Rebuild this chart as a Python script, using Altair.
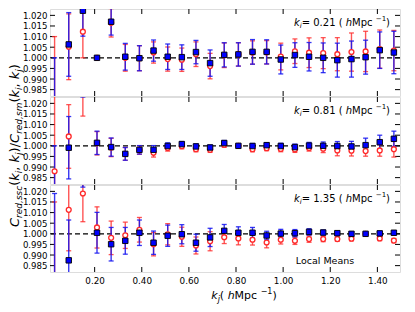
import altair as alt
import pandas as pd

# ---------------- data ----------------
kj = [0.03, 0.09, 0.15, 0.21, 0.27, 0.33, 0.39, 0.45, 0.51, 0.57, 0.63, 0.69, 0.75,
      0.81, 0.87, 0.93, 0.99, 1.05, 1.11, 1.17, 1.23, 1.29, 1.35, 1.41, 1.47]

ki_labels = ["0.21", "0.81", "1.35"]

# blue/black squares (ratio) and their errors
sq1 = [0.970, 1.0063, 1.0222, 1.0000, 1.0170, 1.0005, 0.9998, 1.0034, 1.0005, 1.0003, 1.0027, 0.9975, 1.0014,
       1.0016, 1.0028, 1.0028, 0.9992, 1.0013, 1.0005, 1.0000, 0.9989, 0.9994, 1.0003, 1.0036, 1.0025]
sqe1 = [0.030, 0.0150, 0.012, 0.0, 0.0063, 0.0063, 0.0059, 0.0050, 0.0060, 0.0058, 0.0055, 0.0062, 0.0057,
        0.0055, 0.0058, 0.0057, 0.0068, 0.0058, 0.0067, 0.0070, 0.0080, 0.0085, 0.0080, 0.0086, 0.0100]
ci1 = [0.978, 1.0052, 1.0123, 1.0000, 1.0165, 1.0000, 0.9998, 1.0025, 0.9994, 0.9991, 1.0017, 0.9961, 1.0012,
       1.0016, 1.0025, 1.0026, 1.0006, 1.0031, 1.0024, 1.0022, 1.0017, 1.0027, 1.0030, 1.0041, 1.0034]
cie1 = [0.032, 0.0155, 0.0123, 0.0, 0.0067, 0.0063, 0.0059, 0.0050, 0.0057, 0.0055, 0.0058, 0.0060, 0.0058,
        0.0055, 0.0055, 0.0055, 0.0063, 0.0058, 0.0070, 0.0073, 0.0078, 0.0090, 0.0095, 0.0090, 0.0095]

sq2 = [0.975, 0.9991, 1.035, 1.0014, 0.9994, 0.9962, 0.9981, 0.9981, 0.9999, 1.0008, 0.9997, 0.9992, 1.0013,
       1.0000, 0.9999, 1.0003, 0.9999, 0.9994, 1.0001, 1.0000, 0.9999, 0.9997, 1.0003, 1.0017, 1.0033]
sqe2 = [0.025, 0.0147, 0.012, 0.0055, 0.0043, 0.0030, 0.0020, 0.0020, 0.0015, 0.0012, 0.0012, 0.0012, 0.0012,
        0.0, 0.0012, 0.0012, 0.0013, 0.0014, 0.0015, 0.0018, 0.0021, 0.0024, 0.0033, 0.0033, 0.0036]
ci2 = [0.988, 1.0044, 1.030, 1.0012, 0.9992, 0.9962, 0.9980, 0.9967, 0.9990, 0.9998, 0.9984, 0.9981, 1.0005,
       1.0000, 0.9984, 0.9989, 0.9985, 0.9983, 0.9990, 0.9986, 0.9978, 0.9977, 0.9975, 0.9978, 0.9984]
cie2 = [0.040, 0.0150, 0.016, 0.0055, 0.0043, 0.0030, 0.0020, 0.0020, 0.0015, 0.0012, 0.0012, 0.0012, 0.0012,
        0.0, 0.0012, 0.0012, 0.0013, 0.0014, 0.0015, 0.0018, 0.0025, 0.0025, 0.0024, 0.0027, 0.0037]

sq3 = [0.975, 0.9875, 1.032, 1.0005, 0.9951, 0.9967, 1.0005, 0.9958, 0.9991, 0.9998, 0.9958, 0.9983, 1.0014,
       1.0005, 1.0005, 0.9992, 1.0001, 1.0003, 1.0009, 1.0006, 1.0003, 1.0000, 1.0000, 1.0002, 1.0005]
sqe3 = [0.044, 0.019, 0.010, 0.0096, 0.0079, 0.0063, 0.0060, 0.0055, 0.0050, 0.0045, 0.0040, 0.0043, 0.0030,
        0.0028, 0.0025, 0.0020, 0.0020, 0.0017, 0.0015, 0.0012, 0.0010, 0.0010, 0.0, 0.0010, 0.0010]
ci3 = [0.975, 1.0113, 1.019, 1.0030, 0.9981, 0.9993, 1.0019, 0.9951, 0.9998, 0.9986, 0.9945, 0.9965, 0.9984,
       0.9978, 0.9972, 0.9959, 0.9972, 0.9967, 0.9975, 0.9975, 0.9975, 0.9977, 1.0000, 0.9978, 0.9968]
cie3 = [0.040, 0.0193, 0.0133, 0.0097, 0.0079, 0.0062, 0.0058, 0.0055, 0.0050, 0.0045, 0.0040, 0.0045, 0.0030,
        0.0030, 0.0025, 0.0025, 0.0020, 0.0017, 0.0015, 0.0012, 0.0010, 0.0010, 0.0, 0.0010, 0.0010]

ytick_vals = [0.985, 0.990, 0.995, 1.000, 1.005, 1.010, 1.015, 1.020]
xtick_vals = [0.20, 0.40, 0.60, 0.80, 1.00, 1.20, 1.40]

SQ = [sq1, sq2, sq3]
SQE = [sqe1, sqe2, sqe3]
CI = [ci1, ci2, ci3]
CIE = [cie1, cie2, cie3]

# ---------------- layout / style ----------------
FONT = "DejaVu Sans"
W, H = 350, 87
YMIN, YMAX = 0.982, 1.023
XMIN, XMAX = 0.0105, 1.496
BLUE = "#1414f0"
RED = "#ff2a2a"

W_EM = {' ': 0.318, '(': 0.390, ')': 0.390, ',': 0.318, '.': 0.318, '/': 0.337, '=': 0.838,
        '\u2212': 0.838, 'C': 0.698, 'L': 0.557, 'M': 0.863, 'a': 0.613, 'c': 0.550, 'd': 0.635,
        'e': 0.615, 'h': 0.634, 'i': 0.278, 'j': 0.278, 'k': 0.579, 'l': 0.278, 'm': 0.974,
        'n': 0.634, 'o': 0.612, 'p': 0.635, 'r': 0.411, 's': 0.521}


def tw(s, size):
    return sum(W_EM.get(c, 0.636) for c in s) * size


def seg_layers(segs, x0, y0, vertical=False):
    layers = []
    pos = 0.0
    for text, size, italic, shift in segs:
        if vertical:
            x, y, ang = x0 + shift, y0 - pos, 270
        else:
            x, y, ang = x0 + pos, y0 + shift, 0
        layers.append(
            alt.Chart(alt.Data(values=[{}])).mark_text(
                text=text, font=FONT, fontSize=size,
                fontStyle="italic" if italic else "normal",
                align="left", baseline="alphabetic", angle=ang, color="black"
            ).encode(x=alt.value(x), y=alt.value(y))
        )
        pos += tw(text, size)
    return layers


def seg_width(segs):
    return sum(tw(t, s) for t, s, _, _ in segs)


def panel(i):
    df = pd.DataFrame({"kj": kj, "sq": SQ[i], "sqe": SQE[i], "ci": CI[i], "cie": CIE[i]})
    df["sqlo"] = df.sq - df.sqe
    df["sqhi"] = df.sq + df.sqe
    df["cilo"] = df.ci - df.cie
    df["cihi"] = df.ci + df.cie

    xsc = alt.Scale(domain=[XMIN, XMAX], nice=False, zero=False)
    ysc = alt.Scale(domain=[YMIN, YMAX], nice=False, zero=False)
    if i == 2:
        xax = alt.Axis(values=xtick_vals, format=".2f", ticks=False, domain=False, grid=False,
                       labelFont=FONT, labelFontSize=8.8, labelPadding=4, labelColor="black",
                       title=None, labelOverlap=False)
    else:
        xax = None
    yax = alt.Axis(values=ytick_vals, format=".3f", ticks=False, domain=False, grid=False,
                   labelFont=FONT, labelFontSize=8.6, labelPadding=3, labelColor="black",
                   title=None, labelOverlap=False)

    def X(f):
        return alt.X(f + ":Q", scale=xsc, axis=xax)

    def Y(f):
        return alt.Y(f + ":Q", scale=ysc, axis=yax)

    base = alt.Chart(df)
    bars_r = base.transform_filter("datum.cie > 0")
    bars_b = base.transform_filter("datum.sqe > 0")

    one = alt.Chart(alt.Data(values=[{"v": 1.0}]))
    ydat = alt.Chart(pd.DataFrame({"v": ytick_vals}))
    xdat = alt.Chart(pd.DataFrame({"v": xtick_vals}))

    layers = [
        # inward ticks
        ydat.mark_rule(color="black", strokeWidth=1).encode(y=Y("v"), x=alt.value(0), x2=alt.value(5)),
        ydat.mark_rule(color="black", strokeWidth=1).encode(y=Y("v"), x=alt.value(W - 5), x2=alt.value(W)),
        xdat.mark_rule(color="black", strokeWidth=1).encode(x=X("v"), y=alt.value(0), y2=alt.value(5)),
        xdat.mark_rule(color="black", strokeWidth=1).encode(x=X("v"), y=alt.value(H - 5), y2=alt.value(H)),
        # dashed unity line
        one.mark_rule(color="black", strokeWidth=1.3, strokeDash=[5, 3]).encode(y=Y("v")),
        # red error bars
        bars_r.mark_rule(color=RED, strokeWidth=1.4, opacity=0.8, clip=True).encode(x=X("kj"), y=Y("cilo"), y2="cihi:Q"),
        bars_r.mark_tick(color=RED, orient="horizontal", size=5, thickness=1.3, opacity=0.8, clip=True).encode(x=X("kj"), y=Y("cilo")),
        bars_r.mark_tick(color=RED, orient="horizontal", size=5, thickness=1.3, opacity=0.8, clip=True).encode(x=X("kj"), y=Y("cihi")),
        # blue error bars
        bars_b.mark_rule(color=BLUE, strokeWidth=1.4, opacity=0.85, clip=True).encode(x=X("kj"), y=Y("sqlo"), y2="sqhi:Q"),
        bars_b.mark_tick(color=BLUE, orient="horizontal", size=5, thickness=1.3, opacity=0.85, clip=True).encode(x=X("kj"), y=Y("sqlo")),
        bars_b.mark_tick(color=BLUE, orient="horizontal", size=5, thickness=1.3, opacity=0.85, clip=True).encode(x=X("kj"), y=Y("sqhi")),
        # red open circles
        base.mark_point(shape="circle", filled=False, fill="white", fillOpacity=1, stroke=RED,
                        strokeWidth=1.3, size=24, opacity=1, clip=True).encode(x=X("kj"), y=Y("ci")),
        # squares
        base.mark_square(fill="#0000ff", stroke="black", strokeWidth=0.9, size=30, opacity=1,
                         clip=True).encode(x=X("kj"), y=Y("sq")),
    ]

    # k_i label (top right)
    ki_segs = [("k", 10, True, 0), ("i", 7, True, 2.5), (" = " + ki_labels[i] + " (", 10, False, 0),
               ("h", 10, True, 0), (" Mpc", 10, False, 0), ("\u22121", 7, False, -4.5), (")", 10, False, 0)]
    layers += seg_layers(ki_segs, W - 10 - seg_width(ki_segs), 16.5)

    if i == 1:
        ytitle = [("C", 13, True, 0), ("red,ssc", 9, True, 3), ("(", 13, False, 0), ("k", 13, True, 0),
                  ("i", 9, True, 3), (", ", 13, False, 0), ("k", 13, True, 0), ("j", 9, True, 3),
                  (")/", 13, False, 0), ("C", 13, True, 0), ("red,sm", 9, True, 3), ("(", 13, False, 0),
                  ("k", 13, True, 0), ("i", 9, True, 3), (", ", 13, False, 0), ("k", 13, True, 0),
                  ("j", 9, True, 3), (")", 13, False, 0)]
        layers += seg_layers(ytitle, -31, 130, vertical=True)

    if i == 2:
        layers.append(
            alt.Chart(alt.Data(values=[{}])).mark_text(
                text="Local Means", font=FONT, fontSize=9.5, align="center", baseline="alphabetic",
                color="black").encode(x=alt.value(275), y=alt.value(79))
        )
        xt = [("k", 11, True, 0), ("j", 8, True, 3), (" (", 11, False, 0), ("h", 11, True, 0),
              (" Mpc", 11, False, 0), ("\u22121", 8, False, -5), (")", 11, False, 0)]
        layers += seg_layers(xt, 194 - seg_width(xt) / 2, H + 26.5)

    return alt.layer(*layers).properties(width=W, height=H)


chart = alt.vconcat(panel(0), panel(1), panel(2), spacing=1, bounds="flush").properties(
    padding={"left": 0, "top": 0, "right": 5, "bottom": 2}
).configure_view(stroke="black", strokeWidth=1).configure(background="white")

chart.save("out.html", embed_options={"renderer": "svg", "actions": False})
